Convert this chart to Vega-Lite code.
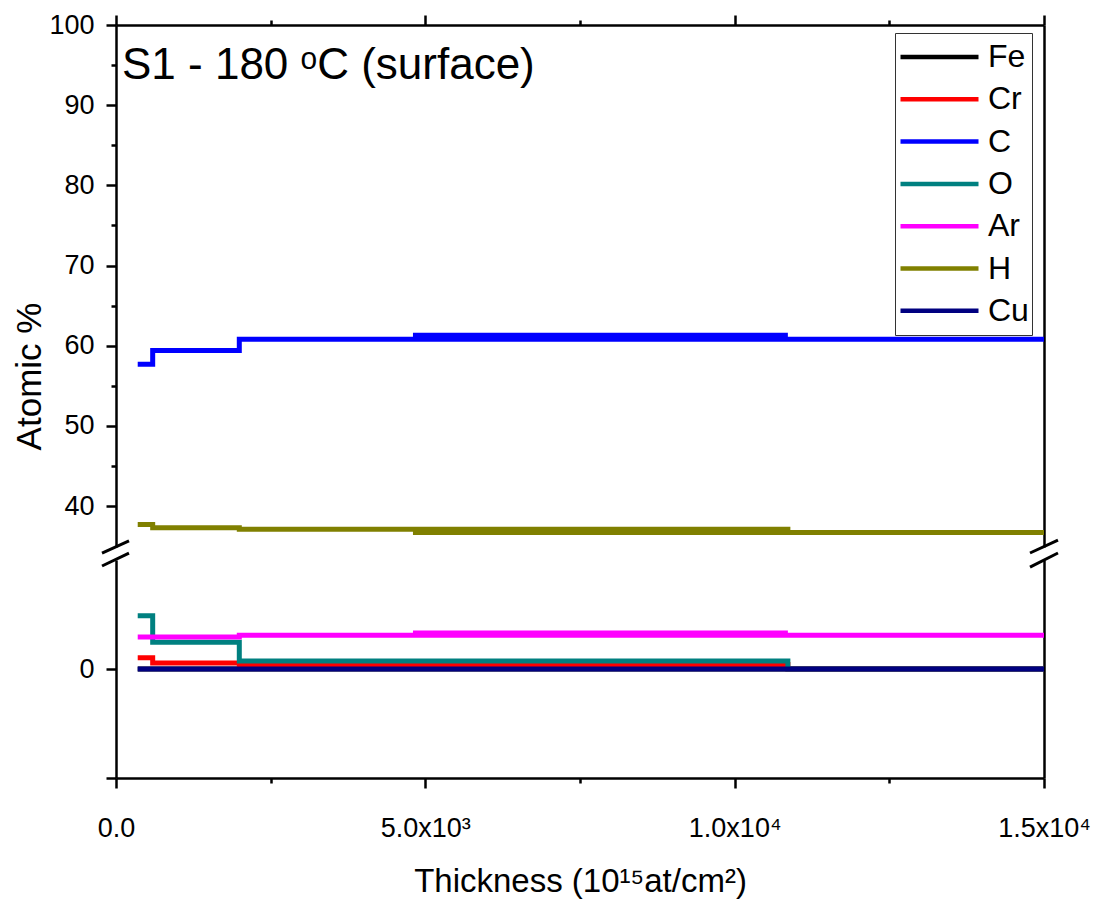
{
  "$schema": "https://vega.github.io/schema/vega-lite/v6.json",
  "background": "white",
  "padding": {"left": 12, "top": 11, "right": 5, "bottom": 5},
  "bounds": "flush",
  "spacing": 13,
  "config": {
    "font": "Liberation Sans",
    "view": {"stroke": null},
    "axis": {
      "grid": false,
      "domainColor": "black",
      "domainWidth": 2.5,
      "tickColor": "black",
      "tickWidth": 2.5,
      "labelColor": "black",
      "titleColor": "black",
      "labelFont": "Liberation Sans",
      "titleFont": "Liberation Sans",
      "labelFontSize": 27,
      "titleFontSize": 33,
      "titleFontWeight": "normal"
    },
    "legend": {
      "orient": "none",
      "legendX": 779,
      "legendY": 8,
      "symbolType": "stroke",
      "symbolSize": 6084,
      "symbolStrokeWidth": 4.5,
      "labelFont": "Liberation Sans",
      "labelFontSize": 32,
      "labelColor": "black",
      "labelOffset": 7,
      "clipHeight": 42,
      "rowPadding": 0.3,
      "padding": 3,
      "strokeColor": "#333333",
      "fillColor": "white",
      "labelLimit": 300
    }
  },
  "datasets": {
    "profile": [
      {"element": "Fe", "trace": "a", "thickness": 351, "atomic": 0},
      {"element": "Fe", "trace": "a", "thickness": 15000, "atomic": 0},
      {"element": "Cr", "trace": "a", "thickness": 351, "atomic": 1.4},
      {"element": "Cr", "trace": "a", "thickness": 593, "atomic": 0.75},
      {"element": "Cr", "trace": "a", "thickness": 1993, "atomic": 0.55},
      {"element": "Cr", "trace": "a", "thickness": 10860, "atomic": 0},
      {"element": "Cr", "trace": "a", "thickness": 15000, "atomic": 0},
      {"element": "C", "trace": "a", "thickness": 351, "atomic": 57.7},
      {"element": "C", "trace": "a", "thickness": 593, "atomic": 59.4},
      {"element": "C", "trace": "a", "thickness": 1993, "atomic": 60.8},
      {"element": "C", "trace": "a", "thickness": 15000, "atomic": 60.8},
      {"element": "C", "trace": "b", "thickness": 4800, "atomic": 61.3},
      {"element": "C", "trace": "b", "thickness": 10860, "atomic": 61.3},
      {"element": "O", "trace": "a", "thickness": 351, "atomic": 6.65},
      {"element": "O", "trace": "a", "thickness": 593, "atomic": 3.35},
      {"element": "O", "trace": "a", "thickness": 1993, "atomic": 1.0},
      {"element": "O", "trace": "a", "thickness": 10860, "atomic": 0},
      {"element": "O", "trace": "a", "thickness": 15000, "atomic": 0},
      {"element": "Ar", "trace": "a", "thickness": 351, "atomic": 4.0},
      {"element": "Ar", "trace": "a", "thickness": 1993, "atomic": 4.2},
      {"element": "Ar", "trace": "a", "thickness": 15000, "atomic": 4.2},
      {"element": "Ar", "trace": "b", "thickness": 4800, "atomic": 4.5},
      {"element": "Ar", "trace": "b", "thickness": 10860, "atomic": 4.5},
      {"element": "H", "trace": "a", "thickness": 351, "atomic": 37.7},
      {"element": "H", "trace": "a", "thickness": 593, "atomic": 37.3},
      {"element": "H", "trace": "a", "thickness": 1993, "atomic": 37.1},
      {"element": "H", "trace": "a", "thickness": 10860, "atomic": 36.7},
      {"element": "H", "trace": "a", "thickness": 15000, "atomic": 36.7},
      {"element": "H", "trace": "b", "thickness": 4800, "atomic": 36.7},
      {"element": "H", "trace": "b", "thickness": 10860, "atomic": 36.7},
      {"element": "Cu", "trace": "a", "thickness": 351, "atomic": 0},
      {"element": "Cu", "trace": "a", "thickness": 15000, "atomic": 0}
    ]
  },
  "vconcat": [
    {
      "width": 928,
      "height": 522,
      "layer": [
        {
          "data": {"name": "profile"},
          "mark": {"type": "line", "interpolate": "step-after", "strokeWidth": 5, "clip": true, "strokeCap": "butt"},
          "encoding": {
            "x": {
              "field": "thickness", "type": "quantitative",
              "scale": {"domain": [0, 15000], "nice": false, "zero": false},
              "axis": {
                "orient": "top",
                "values": [0, 2500, 5000, 7500, 10000, 12500, 15000],
                "labels": false,
                "tickSize": {"condition": {"test": "datum.value % 5000 === 0", "value": 10}, "value": 5},
                "title": null
              }
            },
            "y": {
              "field": "atomic", "type": "quantitative",
              "scale": {"domain": [34.9, 100], "nice": false, "zero": false},
              "axis": {
                "orient": "left",
                "values": [40, 45, 50, 55, 60, 65, 70, 75, 80, 85, 90, 95, 100],
                "labelExpr": "datum.value % 10 === 0 ? datum.label : ''",
                "tickSize": {"condition": {"test": "datum.value % 10 === 0", "value": 10}, "value": 5},
                "labelPadding": 12,
                "title": "Atomic %",
                "titleX": -87,
                "titleY": 351,
                "titleAngle": -90,
                "titleAlign": "center",
                "titleBaseline": "middle",
                "titleFontSize": 35
              }
            },
            "color": {
              "field": "element", "type": "nominal",
              "scale": {
                "domain": ["Fe", "Cr", "C", "O", "Ar", "H", "Cu"],
                "range": ["#000000", "#FF0000", "#0000FF", "#008080", "#FF00FF", "#808000", "#000080"]
              },
              "legend": {"title": null}
            },
            "detail": {"field": "trace"}
          }
        },
        {
          "data": {"values": [{}]},
          "mark": {"type": "rule", "strokeWidth": 3, "color": "black"},
          "encoding": {
            "x": {"datum": -226, "type": "quantitative", "axis": null},
            "x2": {"datum": 210},
            "y": {"datum": 34.15, "type": "quantitative", "axis": null},
            "y2": {"datum": 35.65}
          }
        },
        {
          "data": {"values": [{}]},
          "mark": {"type": "rule", "strokeWidth": 3, "color": "black"},
          "encoding": {
            "x": {"datum": 14774, "type": "quantitative", "axis": null},
            "x2": {"datum": 15226},
            "y": {"datum": 34.15, "type": "quantitative", "axis": {"orient": "right", "ticks": false, "labels": false, "title": null}},
            "y2": {"datum": 35.77}
          }
        },
        {
          "data": {"values": [{}]},
          "mark": {"type": "text", "text": "S1 - 180 ᵒC (surface)", "fontSize": 44, "align": "left", "baseline": "alphabetic", "font": "Liberation Sans", "color": "black"},
          "encoding": {
            "x": {"datum": 97, "type": "quantitative", "axis": null},
            "y": {"datum": 93.26, "type": "quantitative", "axis": null}
          }
        }
      ],
      "resolve": {"axis": {"x": "independent", "y": "independent"}}
    },
    {
      "width": 928,
      "height": 218,
      "layer": [
        {
          "data": {"name": "profile"},
          "mark": {"type": "line", "interpolate": "step-after", "strokeWidth": 5, "clip": true, "strokeCap": "butt"},
          "encoding": {
            "x": {
              "field": "thickness", "type": "quantitative",
              "scale": {"domain": [0, 15000], "nice": false, "zero": false},
              "axis": {
                "orient": "bottom",
                "values": [0, 2500, 5000, 7500, 10000, 12500, 15000],
                "labelExpr": "datum.value === 0 ? '0.0' : datum.value === 5000 ? '5.0x10³' : datum.value === 10000 ? '1.0x10⁴' : datum.value === 15000 ? '1.5x10⁴' : ''",
                "tickSize": {"condition": {"test": "datum.value % 5000 === 0", "value": 10}, "value": 5},
                "labelPadding": 27,
                "labelFlush": false,
                "labelOverlap": false,
                "title": "Thickness (10¹⁵at/cm²)",
                "titlePadding": 24
              }
            },
            "y": {
              "field": "atomic", "type": "quantitative",
              "scale": {"domain": [-13.6, 13.6], "nice": false, "zero": false},
              "axis": {
                "orient": "left",
                "values": [-13.6, 0],
                "labelExpr": "datum.value === 0 ? '0' : ''",
                "tickSize": 10,
                "labelPadding": 12,
                "title": null
              }
            },
            "color": {
              "field": "element", "type": "nominal",
              "scale": {
                "domain": ["Fe", "Cr", "C", "O", "Ar", "H", "Cu"],
                "range": ["#000000", "#FF0000", "#0000FF", "#008080", "#FF00FF", "#808000", "#000080"]
              },
              "legend": {"title": null}
            },
            "detail": {"field": "trace"}
          }
        },
        {
          "data": {"values": [{}]},
          "mark": {"type": "rule", "strokeWidth": 3, "color": "black"},
          "encoding": {
            "x": {"datum": -226, "type": "quantitative", "axis": null},
            "x2": {"datum": 210},
            "y": {"datum": 12.85, "type": "quantitative", "axis": null},
            "y2": {"datum": 14.47}
          }
        },
        {
          "data": {"values": [{}]},
          "mark": {"type": "rule", "strokeWidth": 3, "color": "black"},
          "encoding": {
            "x": {"datum": 14774, "type": "quantitative", "axis": null},
            "x2": {"datum": 15226},
            "y": {"datum": 12.72, "type": "quantitative", "axis": {"orient": "right", "ticks": false, "labels": false, "title": null}},
            "y2": {"datum": 14.47}
          }
        }
      ],
      "resolve": {"axis": {"x": "independent", "y": "independent"}}
    }
  ]
}
